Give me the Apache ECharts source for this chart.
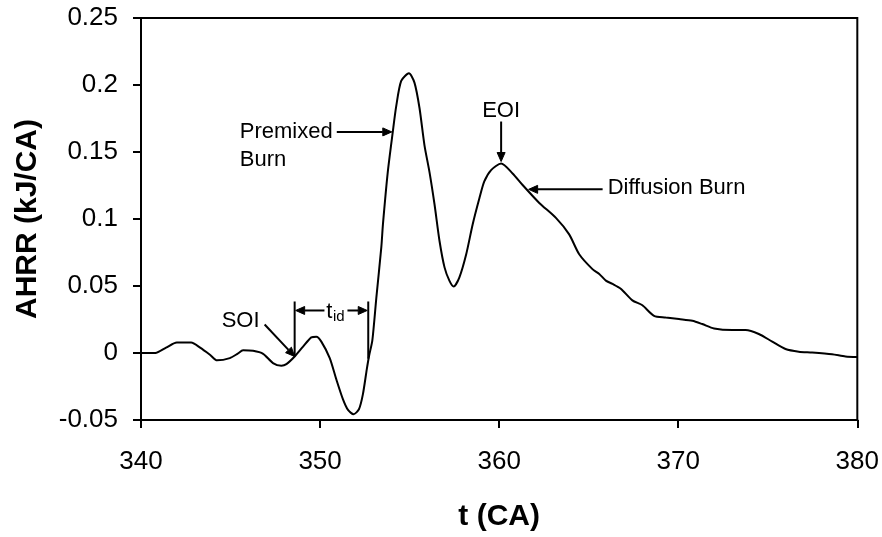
<!DOCTYPE html>
<html>
<head>
<meta charset="utf-8">
<script src="https://cdn.jsdelivr.net/npm/echarts@6/dist/echarts.min.js"></script>
<style>
  html, body { margin: 0; padding: 0; background: #ffffff; }
  #chart { width: 882px; height: 537px; }
</style>
</head>
<body>
<div id="chart"></div>
<script>
// Crank angle (CA) and apparent heat release rate (kJ/CA)
const crankAngle = [
  340.0, 340.8, 341.4, 342.0, 342.8, 343.3, 343.85, 344.25, 344.96, 345.4,
  345.7, 346.26, 346.82, 347.37, 347.84, 348.12, 348.58, 349.05, 349.51, 349.79,
  350.07, 350.54, 350.91, 351.28, 351.56, 351.87, 352.17, 352.39, 352.61, 352.73,
  352.92, 353.14, 353.42, 353.51, 353.78, 354.06, 354.25, 354.53, 354.96, 355.27,
  355.55, 355.83, 356.11, 356.39, 356.67, 356.95, 357.22, 357.46, 357.78, 358.16,
  358.52, 358.90, 359.17, 359.55, 360.11, 360.75, 361.31, 362.24, 363.17, 363.91,
  364.47, 365.21, 365.59, 365.96, 366.33, 366.79, 367.44, 368.0, 368.65, 369.30,
  370.04, 370.79, 371.34, 372.0, 373.02, 373.76, 374.5, 375.25, 375.99, 376.73,
  377.48, 378.59, 379.34, 380.0
];
const ahrr = [
  0.000, 0.000, 0.004, 0.0078, 0.0078, 0.004, -0.0013, -0.0055, -0.0038, -0.0005,
  0.002, 0.0016, -0.0006, -0.0075, -0.0095, -0.0083, -0.0026, 0.0048, 0.0117, 0.0122,
  0.0085, -0.0038, -0.0198, -0.0346, -0.0425, -0.0457, -0.042, -0.0309, -0.012, -0.0026,
  0.0097, 0.041, 0.079, 0.096, 0.135, 0.165, 0.184, 0.203, 0.2087, 0.2018,
  0.183, 0.155, 0.135, 0.111, 0.0836, 0.0639, 0.054, 0.0496, 0.0565, 0.0737,
  0.0959, 0.1156, 0.128, 0.1365, 0.1414, 0.134, 0.1254, 0.112, 0.1008, 0.0885,
  0.0737, 0.0626, 0.059, 0.054, 0.0516, 0.048, 0.0393, 0.0356, 0.0277, 0.0265,
  0.0253, 0.024, 0.0216, 0.0183, 0.0171, 0.0171, 0.0142, 0.0085, 0.003, 0.001,
  0.0004, -0.0009, -0.0026, -0.003
];

// Axis ranges and titles
const xRange = [340, 380];
const xStep = 10;
const yRange = [-0.05, 0.25];
const yStep = 0.05;
const xTitle = 't (CA)';
const yTitle = 'AHRR (kJ/CA)';

// Event markers on the crank-angle axis
const soiAngle = 348.58;      // start of injection
const ignitionAngle = 352.69; // start of combustion
const eoiAngle = 360.11;      // end of injection
const premixedAngle = 354.06;
const diffusionAngle = 361.59;

const FONT = '"Liberation Sans", Arial, sans-serif';

const chart = echarts.init(document.getElementById('chart'), null, { renderer: 'canvas' });

chart.setOption({
  animation: false,
  backgroundColor: '#ffffff',
  grid: {
    left: 141, right: 23.5, top: 18, bottom: 113,
    show: true, borderColor: '#000', borderWidth: 2, backgroundColor: 'transparent'
  },
  xAxis: {
    type: 'value',
    min: xRange[0], max: xRange[1], interval: xStep,
    name: xTitle, nameLocation: 'middle', nameGap: 82,
    nameTextStyle: { fontFamily: FONT, fontSize: 30, fontWeight: 'bold', color: '#000' },
    axisLine: { onZero: false, lineStyle: { color: '#000', width: 2 } },
    axisTick: { show: true, inside: false, length: 8, lineStyle: { color: '#000', width: 2 } },
    axisLabel: { margin: 29, fontFamily: FONT, fontSize: 26, color: '#000' },
    splitLine: { show: false }
  },
  yAxis: {
    type: 'value',
    min: yRange[0], max: yRange[1], interval: yStep,
    name: yTitle, nameLocation: 'middle', nameGap: 98,
    nameTextStyle: { fontFamily: FONT, fontSize: 30, fontWeight: 'bold', color: '#000' },
    axisLine: { onZero: false, lineStyle: { color: '#000', width: 2 } },
    axisTick: { show: true, inside: false, length: 8, lineStyle: { color: '#000', width: 2 } },
    axisLabel: {
      margin: 23, fontFamily: FONT, fontSize: 26, color: '#000',
      formatter: v => String(+v.toFixed(2))
    },
    splitLine: { show: false }
  },
  series: [{
    type: 'line',
    data: crankAngle.map((x, i) => [x, ahrr[i]]),
    showSymbol: false,
    smooth: 0.25,
    lineStyle: { color: '#000', width: 2 },
    z: 3
  }]
});

// ---- annotations, placed from data coordinates ----
function valueAt(x) {
  for (let i = 1; i < crankAngle.length; i++) {
    if (x <= crankAngle[i]) {
      const t = (x - crankAngle[i - 1]) / (crankAngle[i] - crankAngle[i - 1]);
      return ahrr[i - 1] + t * (ahrr[i] - ahrr[i - 1]);
    }
  }
  return ahrr[ahrr.length - 1];
}
const toPx = (x, y) => chart.convertToPixel({ gridIndex: 0 }, [x, y]);

const elements = [];
const HEAD_LEN = 9, HEAD_HALF = 4;

function arrowPx(a, b) {
  const dx = b[0] - a[0], dy = b[1] - a[1];
  const len = Math.hypot(dx, dy);
  const ux = dx / len, uy = dy / len;
  const base = [b[0] - ux * HEAD_LEN, b[1] - uy * HEAD_LEN];
  elements.push({
    type: 'line', silent: true,
    shape: { x1: a[0], y1: a[1], x2: base[0], y2: base[1] },
    style: { stroke: '#000', lineWidth: 2 }
  });
  elements.push({
    type: 'polygon', silent: true,
    shape: { points: [
      b,
      [base[0] - uy * HEAD_HALF, base[1] + ux * HEAD_HALF],
      [base[0] + uy * HEAD_HALF, base[1] - ux * HEAD_HALF]
    ] },
    style: { fill: '#000', stroke: '#000', lineWidth: 1 }
  });
}
function segPx(a, b) {
  elements.push({
    type: 'line', silent: true,
    shape: { x1: a[0], y1: a[1], x2: b[0], y2: b[1] },
    style: { stroke: '#000', lineWidth: 2 }
  });
}
function textPx(p, str, size, align, vAlign) {
  elements.push({
    type: 'text', silent: true, x: p[0], y: p[1],
    style: {
      text: str, fontFamily: FONT, fontSize: size, fill: '#000',
      align: align, verticalAlign: vAlign, textAlign: align, textVerticalAlign: vAlign
    }
  });
}

// SOI
const soiTip = toPx(soiAngle, valueAt(soiAngle));
arrowPx([soiTip[0] - 30, soiTip[1] - 32], soiTip);
textPx([soiTip[0] - 54, soiTip[1] - 36], 'SOI', 22, 'center', 'middle');

// ignition delay bracket
const ignTip = toPx(ignitionAngle, valueAt(ignitionAngle));
const bracketTop = soiTip[1] - 55;
segPx([soiTip[0], bracketTop], soiTip);
segPx([ignTip[0], bracketTop], [ignTip[0], ignTip[1] - 2]);
const barY = bracketTop + 9;
const mid = (soiTip[0] + ignTip[0]) / 2;
arrowPx([mid - 7, barY], [soiTip[0] + 1, barY]);
arrowPx([mid + 16, barY], [ignTip[0] - 1, barY]);
textPx([mid + 1, barY + 1], 't', 22, 'right', 'middle');
textPx([mid + 1.5, barY + 6], 'id', 15, 'left', 'middle');

// Premixed burn
const preTip = toPx(premixedAngle, valueAt(premixedAngle));
arrowPx([preTip[0] - 56, preTip[1]], [preTip[0] - 1, preTip[1]]);
textPx([preTip[0] - 153, preTip[1]], 'Premixed', 22, 'left', 'middle');
textPx([preTip[0] - 153, preTip[1] + 28], 'Burn', 22, 'left', 'middle');

// EOI
const eoiTip = toPx(eoiAngle, valueAt(eoiAngle));
arrowPx([eoiTip[0], eoiTip[1] - 42], [eoiTip[0], eoiTip[1] - 2]);
textPx([eoiTip[0], eoiTip[1] - 53], 'EOI', 22, 'center', 'middle');

// Diffusion burn
const difTip = toPx(diffusionAngle, valueAt(diffusionAngle));
arrowPx([difTip[0] + 75, difTip[1] - 1], [difTip[0] + 1, difTip[1] - 1]);
textPx([difTip[0] + 80, difTip[1] - 2], 'Diffusion Burn', 22, 'left', 'middle');

chart.setOption({ graphic: { elements: elements } });
</script>
</body>
</html>
